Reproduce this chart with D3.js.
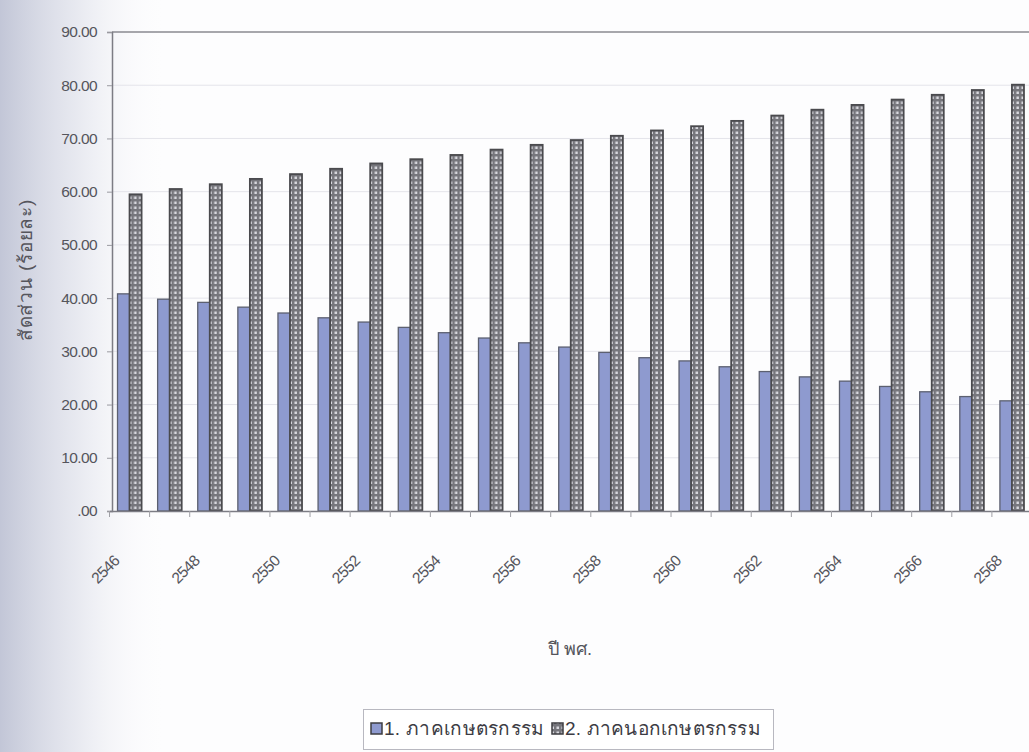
<!DOCTYPE html>
<html>
<head>
<meta charset="utf-8">
<script src="https://cdn.jsdelivr.net/npm/d3@7"></script>
<style>
  html, body { margin: 0; padding: 0; background: #fdfdfe; overflow: hidden; }
  svg { display: block; }
  text { font-family: "Liberation Sans", Arial, sans-serif; }
</style>
</head>
<body>
<svg id="chart" width="1029" height="752"></svg>
<script>
// Years (B.E.) on the category axis
const years = ["2546","2547","2548","2549","2550","2551","2552","2553","2554","2555","2556","2557",
               "2558","2559","2560","2561","2562","2563","2564","2565","2566","2567","2568"];
// Share of agricultural sector (%)
const agri = [40.8, 39.8, 39.2, 38.3, 37.2, 36.3, 35.5, 34.5, 33.5, 32.5, 31.6, 30.8,
              29.8, 28.8, 28.2, 27.1, 26.2, 25.2, 24.4, 23.4, 22.4, 21.5, 20.7];
// Share of non-agricultural sector (%)
const nonAgri = [59.5, 60.5, 61.4, 62.4, 63.3, 64.3, 65.3, 66.1, 66.9, 67.9, 68.8, 69.7,
                 70.5, 71.5, 72.3, 73.3, 74.3, 75.4, 76.3, 77.3, 78.2, 79.1, 80.1];
const seriesNames = ["1. ภาคเกษตรกรรม", "2. ภาคนอกเกษตรกรรม"];
const yTicks = [0, 10, 20, 30, 40, 50, 60, 70, 80, 90];
const yTitle = "สัดส่วน (ร้อยละ)";
const xTitle = "ปี พศ.";

const svg = d3.select("#chart");
const defs = svg.append("defs");

// Shadow along the left edge of the scanned page
const edge = defs.append("linearGradient").attr("id", "edge").attr("x1", 0).attr("x2", 1).attr("y1", 0).attr("y2", 0);
edge.append("stop").attr("offset", "0").attr("stop-color", "#c2c6d7").attr("stop-opacity", 1);
edge.append("stop").attr("offset", "0.45").attr("stop-color", "#d2d5e2").attr("stop-opacity", 0.5);
edge.append("stop").attr("offset", "1").attr("stop-color", "#ffffff").attr("stop-opacity", 0);
svg.append("rect").attr("x", 0).attr("y", 0).attr("width", 170).attr("height", 752).attr("fill", "url(#edge)");

// Dotted fill for the non-agricultural bars
const pat = defs.append("pattern").attr("id", "hatch").attr("patternUnits", "userSpaceOnUse")
  .attr("width", 5).attr("height", 5);
pat.append("rect").attr("width", 5).attr("height", 5).attr("fill", "#76767c");
pat.append("rect").attr("x", 1.5).attr("y", 1.5).attr("width", 2.5).attr("height", 2.5).attr("fill", "#d8d8de");

const plot = { left: 112, top: 32, bottom: 511, right: 1032 };

const y = d3.scaleLinear().domain([0, 90]).range([plot.bottom, plot.top]);
const x0 = d3.scaleBand().domain(years).range([109.5, plot.right]).paddingInner(0.4).paddingOuter(0.2);
const x1 = d3.scaleBand().domain([0, 1]).range([0, x0.bandwidth()]);

// Gridlines
svg.append("g").selectAll("line").data(yTicks.slice(1, -1)).join("line")
  .attr("x1", plot.left).attr("x2", plot.right)
  .attr("y1", d => y(d)).attr("y2", d => y(d))
  .attr("stroke", "#e4e4ea").attr("stroke-width", 1);
// Top border
svg.append("line").attr("x1", plot.left).attr("x2", plot.right)
  .attr("y1", y(90)).attr("y2", y(90)).attr("stroke", "#8a8a90").attr("stroke-width", 1.5);

// Bars
const groups = svg.append("g").selectAll("g").data(years).join("g")
  .attr("transform", d => `translate(${x0(d)},0)`);
groups.append("rect")
  .attr("x", x1(0)).attr("width", x1.bandwidth())
  .attr("y", (d, i) => y(agri[i])).attr("height", (d, i) => y(0) - y(agri[i]))
  .attr("fill", "#8e9acf").attr("stroke", "#5c6070").attr("stroke-width", 1.3);
groups.append("rect")
  .attr("x", x1(1)).attr("width", x1.bandwidth())
  .attr("y", (d, i) => y(nonAgri[i])).attr("height", (d, i) => y(0) - y(nonAgri[i]))
  .attr("fill", "url(#hatch)").attr("stroke", "#4a4a4e").attr("stroke-width", 1.8);

// Y axis
const yAxis = svg.append("g").attr("transform", `translate(${plot.left},0)`)
  .call(d3.axisLeft(y).tickValues(yTicks).tickSize(5).tickPadding(10)
    .tickFormat(d => d === 0 ? ".00" : d3.format(".2f")(d)));
yAxis.select(".domain").attr("stroke", "#7c7c84").attr("stroke-width", 1.5);
yAxis.selectAll(".tick line").attr("stroke", "#9a9aa0");
yAxis.selectAll("text").attr("font-size", 15.5).attr("fill", "#55555c").attr("letter-spacing", -0.6)
  .attr("font-family", "'Liberation Sans', Arial, sans-serif");

// X axis
const xAxis = svg.append("g").attr("transform", `translate(0,${plot.bottom})`)
  .call(d3.axisBottom(x0).tickSize(0).tickFormat(""));
xAxis.select(".domain").attr("stroke", "#7c7c84").attr("stroke-width", 1.5);
// Category separators
svg.append("g").selectAll("line").data(years).join("line")
  .attr("x1", d => x0(d) - x0.step() * 0.2).attr("x2", d => x0(d) - x0.step() * 0.2)
  .attr("y1", plot.bottom).attr("y2", plot.bottom + 6)
  .attr("stroke", "#a0a0a6");

// Rotated year labels, every second year
svg.append("g").selectAll("text").data(years.filter((d, i) => i % 2 === 0)).join("text")
  .attr("transform", d => `translate(${x0(d) + x0.bandwidth() / 2 - 13},558) rotate(-45)`)
  .attr("text-anchor", "end").attr("dy", "0.35em")
  .attr("font-size", 15.5).attr("letter-spacing", -0.6).attr("fill", "#55555c").text(d => d);

// Axis titles
svg.append("text").attr("transform", "translate(25,270) rotate(-90)")
  .attr("text-anchor", "middle").attr("dy", "0.35em")
  .attr("font-family", "'Noto Sans', 'DejaVu Sans', sans-serif")
  .attr("font-size", 19).attr("letter-spacing", 0.8).attr("fill", "#55555c").text(yTitle);
svg.append("text").attr("x", 570).attr("y", 649)
  .attr("text-anchor", "middle").attr("dy", "0.35em")
  .attr("font-family", "'Noto Sans', 'DejaVu Sans', sans-serif")
  .attr("font-size", 18).attr("fill", "#55555c").text(xTitle);

// Legend
const lg = svg.append("g");
lg.append("rect").attr("x", 363.5).attr("y", 709.5).attr("width", 410).attr("height", 40)
  .attr("fill", "#ffffff").attr("stroke", "#b8b8c0");
const legendX = [371, 552];
const fills = ["#8e9acf", "url(#hatch)"];
seriesNames.forEach((name, i) => {
  lg.append("rect").attr("x", legendX[i]).attr("y", 723).attr("width", 11).attr("height", 11)
    .attr("fill", fills[i]).attr("stroke", "#3c3c40").attr("stroke-width", 1.5);
  lg.append("text").attr("x", legendX[i] + 13).attr("y", 735)
    .attr("font-family", "'Noto Sans', 'DejaVu Sans', sans-serif")
    .attr("font-size", 19).attr("letter-spacing", i === 0 ? 0.3 : 0.2)
    .attr("fill", "#3c3c44").text(name);
});
</script>
</body>
</html>
